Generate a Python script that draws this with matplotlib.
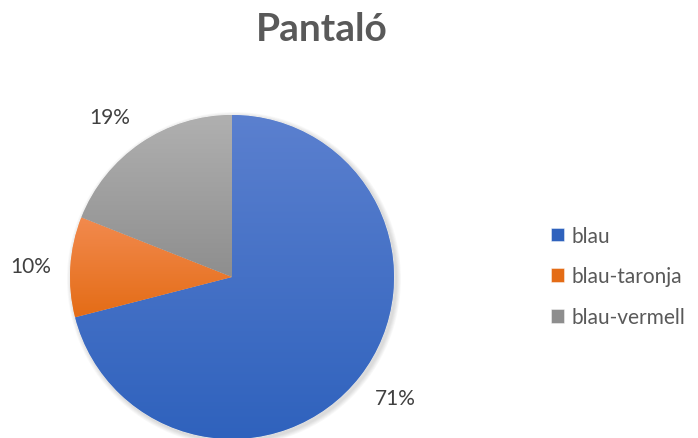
# Import libraries
import matplotlib.pyplot as plt, numpy as np
from matplotlib.colors import LinearSegmentedColormap

# Data
labels = ['blau', 'blau-taronja', 'blau-vermell']
values = [71, 10, 19]
title = 'Pantaló'

# Colour gradient (top, bottom) per slice
grads = [('#5b80cf', '#2f62bd'), ('#f28a4e', '#e46c16'), ('#b0b0b0', '#8e8e8e')]

plt.rcParams['font.family'] = ['Lato', 'DejaVu Sans']

fig = plt.figure(figsize=(6.98, 4.39), dpi=100)
ax = fig.add_axes([0, 0, 1, 1])
ax.set_xlim(0, 698)
ax.set_ylim(0, 439)
ax.set_aspect('equal')
ax.axis('off')

center = (232, 161)
radius = 162

# Soft shadow
for k in range(6):
    sh = plt.Circle((center[0] + 2, center[1] - 2), radius + 1 + k * 0.8,
                    color='black', alpha=0.025, zorder=0, lw=0)
    ax.add_patch(sh)

wedges, _ = ax.pie(
    values, center=center, radius=radius, startangle=90, counterclock=False,
    colors=[g[1] for g in grads],
    wedgeprops={'linewidth': 0.6, 'edgecolor': '#ffffff80'})

# Vertical gradient fill for each slice + outside-end labels
total = sum(values)
for w, (top, bot), v in zip(wedges, grads, values):
    bb = w.get_path().get_extents(w.get_transform() - ax.transData)
    cmap = LinearSegmentedColormap.from_list('g', [bot, top])
    grad = np.linspace(0, 1, 256).reshape(-1, 1)
    im = ax.imshow(grad, cmap=cmap, origin='lower', aspect='auto',
                   extent=[bb.x0, bb.x1, bb.y0, bb.y1], zorder=w.get_zorder())
    im.set_clip_path(w)

    ang = np.deg2rad((w.theta1 + w.theta2) / 2)
    c, s = np.cos(ang), np.sin(ang)
    ha = 'left' if c > 0.1 else ('right' if c < -0.1 else 'center')
    va = 'bottom' if s > 0.1 else ('top' if s < -0.1 else 'center')
    ax.text(center[0] + 1.12 * radius * c, center[1] + 1.12 * radius * s,
            f'{v / total * 100:.0f}%', ha=ha, va=va, fontsize=15, color='#404040')

ax.set_xlim(0, 698)
ax.set_ylim(0, 439)

fig.text(0.461, 0.932, title, ha='center', va='center', fontsize=28,
         fontweight='bold', color='#595959')

leg = ax.legend(wedges, labels, loc='center left', bbox_to_anchor=(0.763, 0.368),
                frameon=False, fontsize=15, labelcolor='#595959',
                handlelength=0.62, handleheight=0.62, handletextpad=0.35,
                labelspacing=1.0)

fig.savefig('out.png', dpi=100)
